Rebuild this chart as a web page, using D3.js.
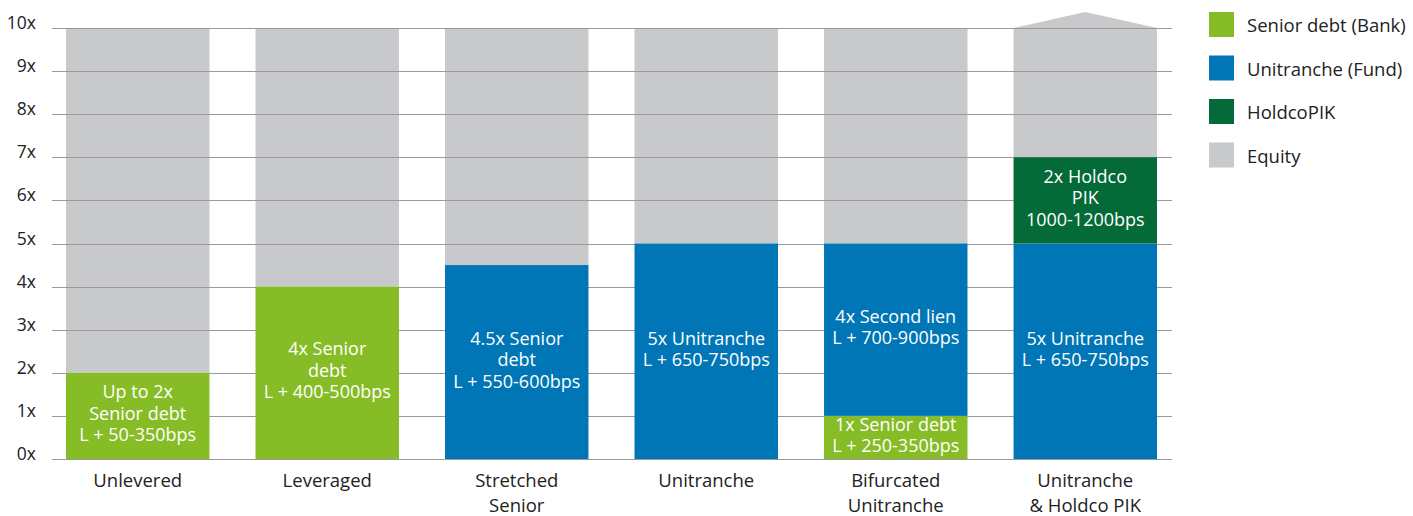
<!DOCTYPE html>
<html>
<head>
<meta charset="utf-8">
<script src="https://cdn.jsdelivr.net/npm/d3@7"></script>
<style>
  html, body { margin: 0; padding: 0; background: #fff; }
  svg { display: block; font-family: "Open Sans", "Noto Sans", sans-serif; }
</style>
</head>
<body>
<svg id="chart" width="1413" height="516"></svg>
<script>
// Capital structure options, leverage multiples (x EBITDA)
const categories = ["Unlevered", "Leveraged", "Stretched\nSenior", "Unitranche", "Bifurcated\nUnitranche", "Unitranche\n& Holdco PIK"];
const seniorDebt = [2, 4, 0, 0, 1, 0];
const unitranche = [0, 0, 4.5, 5, 4, 5];
const holdcoPIK  = [0, 0, 0, 0, 0, 2];
const totalHeight = 10;

const seniorLabels = ["Up to 2x\nSenior debt\nL + 50-350bps", "4x Senior\ndebt\nL + 400-500bps", "", "", "1x Senior debt\nL + 250-350bps", ""];
const unitrancheLabels = ["", "", "4.5x Senior\ndebt\nL + 550-600bps", "5x Unitranche\nL + 650-750bps", "4x Second lien\nL + 700-900bps", "5x Unitranche\nL + 650-750bps"];
const holdcoLabels = ["", "", "", "", "", "2x Holdco\nPIK\n1000-1200bps"];

const yTicks = [0, 1, 2, 3, 4, 5, 6, 7, 8, 9, 10];
const seriesNames = ["Senior debt (Bank)", "Unitranche (Fund)", "HoldcoPIK", "Equity"];
const seriesColors = ["#86bc25", "#0076b6", "#046a38", "#c8c9cb"];

const svg = d3.select("#chart");
const plot = { left: 52, right: 1172, top: 28, bottom: 459 };

const x = d3.scaleBand()
  .domain(categories)
  .range([66, 1157])
  .paddingInner(0.243)
  .paddingOuter(0);

const y = d3.scaleLinear().domain([0, 10]).range([plot.bottom, plot.top]);

// Build stacked segments per category
const segs = [];
categories.forEach((c, i) => {
  let base = 0;
  const parts = [
    { v: seniorDebt[i], color: seriesColors[0], label: seniorLabels[i] },
    { v: unitranche[i], color: seriesColors[1], label: unitrancheLabels[i] },
    { v: holdcoPIK[i], color: seriesColors[2], label: holdcoLabels[i] }
  ];
  parts.forEach(p => {
    if (p.v > 0) {
      segs.push({ cat: c, y0: base, y1: base + p.v, color: p.color, label: p.label });
      base += p.v;
    }
  });
  segs.push({ cat: c, y0: base, y1: totalHeight, color: seriesColors[3], label: "", equity: true });
});

// Equity layer (behind gridlines)
const eq = segs.filter(s => s.equity);
svg.append("g").selectAll("rect").data(eq).join("rect")
  .attr("x", d => x(d.cat))
  .attr("width", x.bandwidth())
  .attr("y", d => y(d.y1))
  .attr("height", d => y(d.y0) - y(d.y1))
  .attr("fill", d => d.color);

// Upward-open tip on the last bar
const lastCat = categories[categories.length - 1];
svg.append("path")
  .attr("d", `M${x(lastCat)},${y(10)} L${x(lastCat) + x.bandwidth() / 2},${y(10) - 16} L${x(lastCat) + x.bandwidth()},${y(10)} Z`)
  .attr("fill", seriesColors[3]);

// Gridlines
svg.append("g").selectAll("line").data(yTicks).join("line")
  .attr("x1", plot.left).attr("x2", plot.right)
  .attr("y1", d => Math.round(y(d)) + 0.5).attr("y2", d => Math.round(y(d)) + 0.5)
  .attr("stroke", "#9a9a9c").attr("stroke-width", 1.2);

// Y tick labels
svg.append("g").selectAll("text").data(yTicks).join("text")
  .attr("x", 36).attr("y", d => y(d) + 1)
  .attr("text-anchor", "end")
  .attr("font-size", 17.5).attr("fill", "#222")
  .text(d => d + "x");

// Debt segments
const debt = segs.filter(s => !s.equity);
svg.append("g").selectAll("rect").data(debt).join("rect")
  .attr("x", d => x(d.cat))
  .attr("width", x.bandwidth())
  .attr("y", d => y(d.y1))
  .attr("height", d => y(d.y0) - y(d.y1))
  .attr("fill", d => d.color);

// Segment labels
const lh = 21.5;
const lbl = svg.append("g").attr("fill", "#fff").attr("font-size", 18).attr("text-anchor", "middle");
debt.forEach(d => {
  const lines = d.label.split("\n");
  const cy = (y(d.y0) + y(d.y1)) / 2 - 3;
  const start = cy - (lines.length - 1) * lh / 2;
  const t = lbl.append("text")
    .attr("x", x(d.cat) + x.bandwidth() / 2)
    .attr("y", start)
    .attr("dominant-baseline", "central");
  lines.forEach((ln, k) => {
    t.append("tspan").attr("x", x(d.cat) + x.bandwidth() / 2).attr("y", start + k * lh).text(ln);
  });
});

// Category labels
const catG = svg.append("g").attr("font-size", 18.5).attr("fill", "#222").attr("text-anchor", "middle");
categories.forEach(c => {
  const t = catG.append("text").attr("x", x(c) + x.bandwidth() / 2);
  c.split("\n").forEach((ln, k) => {
    t.append("tspan").attr("x", x(c) + x.bandwidth() / 2).attr("y", 487 + k * 24.5).text(ln);
  });
});

// Legend
const leg = svg.append("g").attr("transform", "translate(1209,12)");
const li = leg.selectAll("g").data(seriesNames).join("g")
  .attr("transform", (d, i) => `translate(0,${i * 43.5})`);
li.append("rect").attr("width", 25).attr("height", 25).attr("fill", (d, i) => seriesColors[i]);
li.append("text").attr("x", 38).attr("y", 12.5).attr("dominant-baseline", "central")
  .attr("font-size", 18.5).attr("fill", "#222").text(d => d);
</script>
</body>
</html>
